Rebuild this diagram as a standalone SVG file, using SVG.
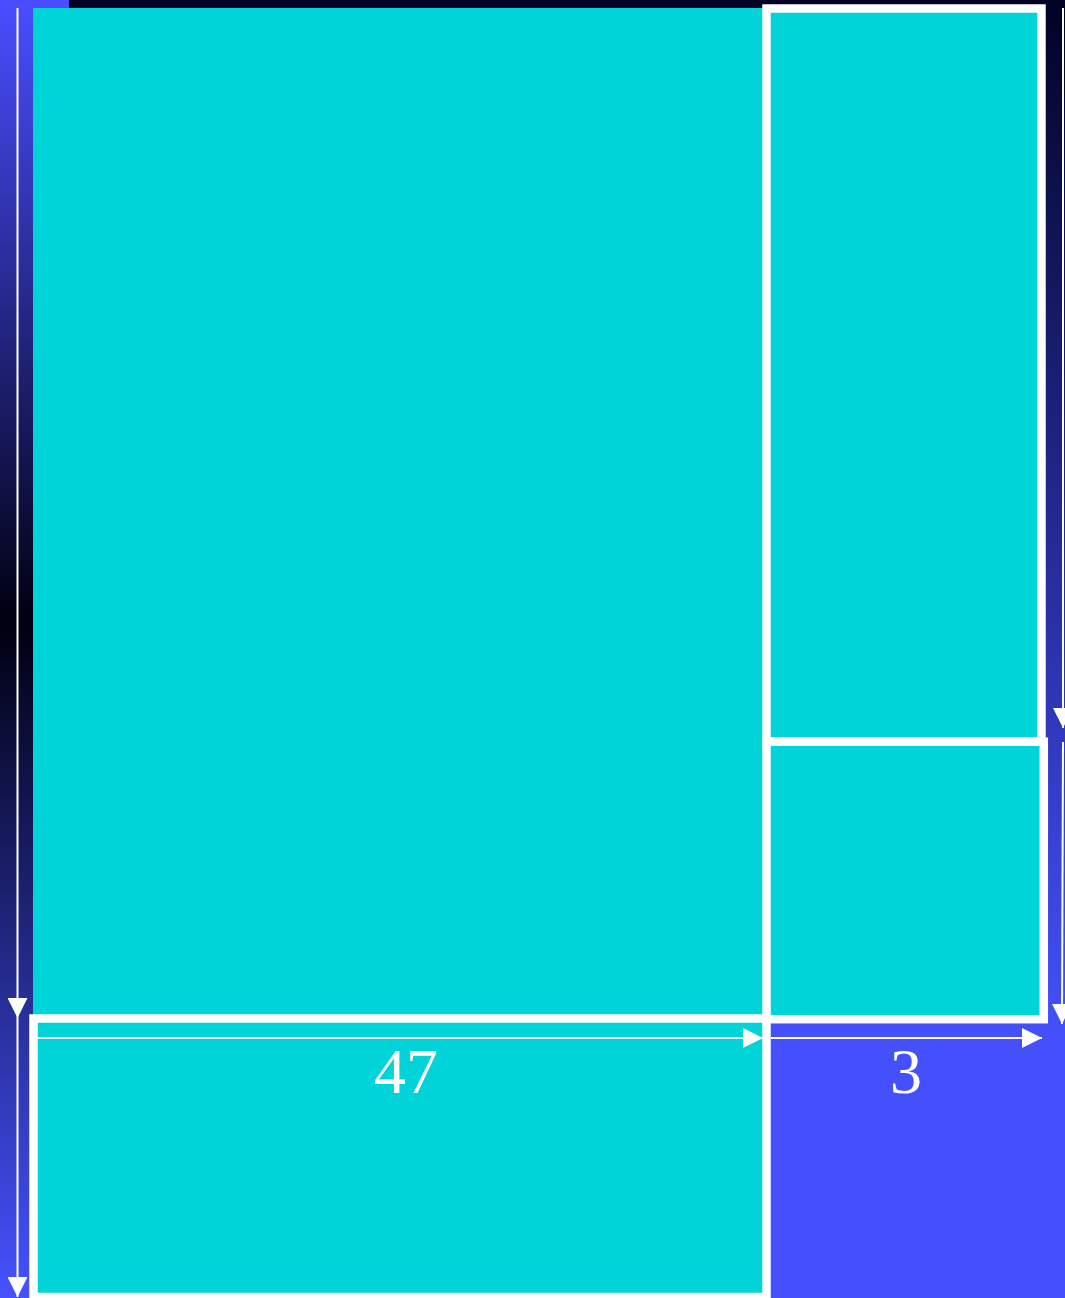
<svg xmlns="http://www.w3.org/2000/svg" width="1065" height="1298" viewBox="0 0 1065 1298">
  <defs>
    <linearGradient id="bgRight" x1="0" y1="0" x2="0" y2="1298" gradientUnits="userSpaceOnUse">
      <stop offset="0" stop-color="#020226"/>
      <stop offset="0.8" stop-color="#4450fc"/>
      <stop offset="1" stop-color="#4450fc"/>
    </linearGradient>
    <linearGradient id="bgLeft" x1="0" y1="0" x2="0" y2="1298" gradientUnits="userSpaceOnUse">
      <stop offset="0" stop-color="#4a4eff"/>
      <stop offset="0.48" stop-color="#000010"/>
      <stop offset="1" stop-color="#4652ff"/>
    </linearGradient>
    <marker id="arrow" markerUnits="userSpaceOnUse" markerWidth="20" markerHeight="20" refX="20" refY="10" orient="auto">
      <path d="M0,0 L20,10 L0,20 Z" fill="#ffffff"/>
    </marker>
  </defs>
  <style>
    .cell { fill: #00d4d8; }
    .framed { fill: #00d4d8; stroke: #ffffff; stroke-width: 8.5; }
    .conn { stroke: #ffffff; stroke-width: 2; fill: none; marker-end: url(#arrow); }
    .lbl { font-family: "Liberation Serif", "Times New Roman", serif; font-size: 64px; fill: #ffffff; text-anchor: middle; }
  </style>
  <rect x="0" y="0" width="1065" height="1298" fill="url(#bgRight)"/>
  <rect x="0" y="0" width="69" height="1298" fill="url(#bgLeft)"/>

  <g id="main-area">
    <rect class="cell" x="33" y="8" width="733" height="1011"/>
  </g>
  <g id="top-right">
    <rect class="framed" x="766.5" y="8.5" width="275" height="733"/>
  </g>
  <g id="mid-right">
    <rect class="framed" x="766.5" y="741.7" width="277.3" height="277.5"/>
  </g>
  <g id="bottom-47">
    <rect class="framed" x="33.5" y="1018.5" width="733" height="278.5"/>
    <text class="lbl" x="406" y="1093">47</text>
  </g>
  <g id="bottom-3">
    <text class="lbl" x="906" y="1093">3</text>
  </g>

  <g id="connectors">
    <line class="conn" x1="17.5" y1="8" x2="17.5" y2="1018"/>
    <line class="conn" x1="17.5" y1="1018" x2="17.5" y2="1297"/>
    <line class="conn" x1="1063" y1="8" x2="1063" y2="728"/>
    <line class="conn" x1="1063" y1="742" x2="1062" y2="1024"/>
    <line class="conn" x1="37" y1="1038" x2="763" y2="1038"/>
    <line class="conn" x1="771" y1="1038" x2="1042" y2="1038"/>
  </g>
</svg>
